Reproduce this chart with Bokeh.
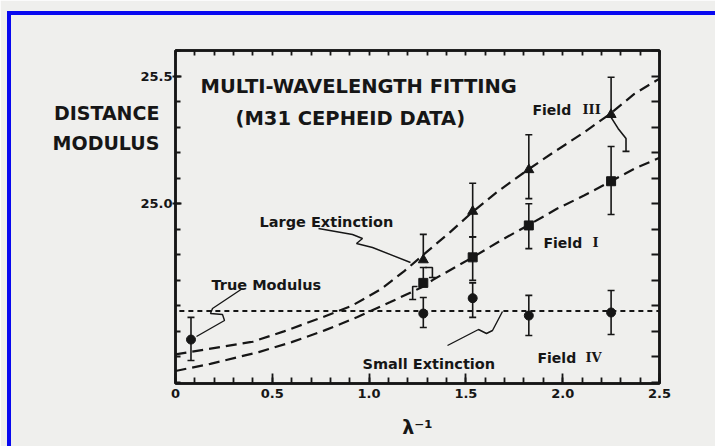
from bokeh.plotting import figure
from bokeh.models import (Range1d, FixedTicker, LinearAxis, Label,
                          InlineStyleSheet)
from bokeh.embed import file_html
from bokeh.resources import INLINE

# ---------------------------------------------------------------- data
# inverse wavelength (1/micron) of the four optical bands
inv_wavelength = [1.28, 1.535, 1.825, 2.25]

# Field III (large extinction)
field3_modulus = [24.78, 24.97, 25.133, 25.349]
field3_upper = [24.88, 25.08, 25.27, 25.495]
field3_lower = [24.711, 24.87, 25.02, 25.205]

# Field I
field1_modulus = [24.69, 24.79, 24.915, 25.088]
field1_upper = [24.75, 24.87, 25.00, 25.224]
field1_lower = [24.625, 24.70, 24.824, 24.958]

# Field IV (small extinction)
field4_modulus = [24.57, 24.63, 24.562, 24.574]
field4_upper = [24.633, 24.69, 24.641, 24.66]
field4_lower = [24.515, 24.555, 24.484, 24.488]

# near-infrared point
ir_inv_wavelength = [0.08]
ir_modulus = [24.468]
ir_upper = [24.555]
ir_lower = [24.386]

true_modulus = 24.58

# fitted extinction curves
large_ext_x = [0.0, 0.40, 0.56, 0.74, 0.91, 1.06, 1.18, 1.28, 1.42, 1.53,
               1.66, 1.82, 1.95, 2.10, 2.24, 2.37, 2.50]
large_ext_y = [24.41, 24.46, 24.50, 24.55, 24.60, 24.665, 24.735, 24.80,
               24.89, 24.965, 25.045, 25.133, 25.20, 25.274, 25.349, 25.43,
               25.49]
small_ext_x = [0.0, 0.18, 0.43, 0.60, 0.77, 0.94, 1.11, 1.27, 1.33, 1.53,
               1.68, 1.82, 1.97, 2.11, 2.25, 2.37, 2.50]
small_ext_y = [24.345, 24.373, 24.419, 24.458, 24.504, 24.556, 24.615,
               24.672, 24.702, 24.788, 24.856, 24.915, 24.98, 25.032, 25.088,
               25.137, 25.18]

x_ticks = [0.0, 0.5, 1.0, 1.5, 2.0, 2.5]
x_tick_labels = ["0", "0.5", "1.0", "1.5", "2.0", "2.5"]
y_ticks = [25.0, 25.5]
y_tick_labels = ["25.0", "25.5"]

# ---------------------------------------------------------------- layout
W, H = 715, 446
FRAME_L, FRAME_T, FRAME_W, FRAME_H = 175, 50, 484, 333
X0, X1 = 0.0, 2.5
Y0, Y1 = 24.296, 25.6

INK = "#161616"
BG = "#efefed"
BLUE = "#0808f0"
SANS = "DejaVu Sans"
SERIF = "DejaVu Serif"


def dx(px):
    """canvas pixel column -> data x"""
    return X0 + (px - FRAME_L) * (X1 - X0) / FRAME_W


def dy(py):
    """canvas pixel row -> data y"""
    return Y1 - (py - FRAME_T) * (Y1 - Y0) / FRAME_H


p = figure(width=W, height=H, x_range=Range1d(X0, X1), y_range=Range1d(Y0, Y1),
           output_backend="svg", toolbar_location=None,
           min_border_left=FRAME_L, min_border_right=W - FRAME_L - FRAME_W,
           min_border_top=FRAME_T, min_border_bottom=H - FRAME_T - FRAME_H)
p.background_fill_color = BG
p.border_fill_color = BG
p.outline_line_color = INK
p.outline_line_width = 2.5
p.grid.visible = False

# blue page rule along the top and left edge
p.stylesheets = [InlineStyleSheet(css=f"""
:host {{ position: relative; }}
:host::after {{
  content: ""; position: absolute; left: 7px; top: 11px;
  width: {W - 7}px; height: {H - 11}px; box-sizing: border-box;
  border-left: 4px solid {BLUE}; border-top: 4px solid {BLUE};
  pointer-events: none;
}}
""")]

minor_x = [round(0.1 * i, 1) for i in range(26)]
minor_y = [round(24.3 + 0.1 * i, 1) for i in range(14)]

for ax in (p.xaxis[0], p.yaxis[0]):
    ax.axis_line_color = INK
    ax.axis_line_width = 2.5
    ax.major_tick_line_color = INK
    ax.minor_tick_line_color = INK
    ax.major_tick_line_width = 1.8
    ax.minor_tick_line_width = 1.8
    ax.major_label_text_font = SANS
    ax.major_label_text_font_style = "bold"
    ax.major_label_text_font_size = "13px"
    ax.major_label_text_color = INK
    ax.axis_label_text_font = SANS
    ax.axis_label_text_font_style = "bold"
    ax.axis_label_text_color = INK

xa = p.xaxis[0]
xa.ticker = FixedTicker(ticks=x_ticks, minor_ticks=minor_x)
xa.major_label_overrides = dict(zip(x_ticks, x_tick_labels))
xa.major_tick_in = 10
xa.major_tick_out = 0
xa.minor_tick_in = 6
xa.minor_tick_out = 0
xa.major_label_standoff = 5
xa.axis_label = "λ\u207b\u00b9"
xa.axis_label_text_font_size = "19px"
xa.axis_label_standoff = 15

ya = p.yaxis[0]
ya.ticker = FixedTicker(ticks=y_ticks, minor_ticks=minor_y)
ya.major_label_overrides = dict(zip(y_ticks, y_tick_labels))
ya.major_tick_in = 6
ya.major_tick_out = 3
ya.minor_tick_in = 5
ya.minor_tick_out = 0
ya.major_label_standoff = 0
# two-line title sits high on the axis: blank lines below push it upward
ya.axis_label = "DISTANCE\nMODULUS\n\n\n\n\n\n"
ya.axis_label_orientation = "horizontal"
ya.axis_label_text_font_size = "19px"
ya.axis_label_text_line_height = 1.345
ya.axis_label_standoff = -22

# tick-only axes on the right and on top
right = LinearAxis(ticker=FixedTicker(ticks=[], minor_ticks=minor_y),
                   axis_line_color=INK, axis_line_width=2.5,
                   minor_tick_line_color=INK, minor_tick_line_width=1.8,
                   minor_tick_in=8, minor_tick_out=0)
p.add_layout(right, "right")
top = LinearAxis(ticker=FixedTicker(ticks=[], minor_ticks=minor_x),
                 axis_line_color=INK, axis_line_width=2.5,
                 minor_tick_line_color=INK, minor_tick_line_width=1.8,
                 minor_tick_in=5, minor_tick_out=0)
p.add_layout(top, "above")

# ---------------------------------------------------------------- curves
p.line(large_ext_x, large_ext_y, line_color=INK, line_width=2.2, line_dash="11 6")
p.line(small_ext_x, small_ext_y, line_color=INK, line_width=2.2, line_dash="11 6")
p.line([X0 + 0.02, X1], [true_modulus, true_modulus], line_color=INK,
       line_width=2, line_dash="5 4")

# ---------------------------------------------------------------- error bars
CAP = 7


def error_bars(xs, ys, ups, lows, offset=None):
    """vertical bars with caps; `offset` maps an index to a bent lower bar
    given as (x offsets, y offsets) from the marker, ending at the lower value"""
    offset = offset or {}
    for i, (x, y, u, lo) in enumerate(zip(xs, ys, ups, lows)):
        p.segment(x0=[x], y0=[y], x1=[x], y1=[u], line_color=INK, line_width=1.6)
        p.scatter([x], [u], marker="dash", size=CAP, line_color=INK, line_width=1.6)
        if i in offset:
            ox, oy = offset[i]
            px_ = [x + d for d in ox]
            py_ = [y + d for d in oy] + [lo]
            p.line(px_, py_, line_color=INK, line_width=1.6)
            p.scatter([px_[-1]], [lo], marker="dash", size=CAP, line_color=INK,
                      line_width=1.6)
        else:
            p.segment(x0=[x], y0=[y], x1=[x], y1=[lo], line_color=INK, line_width=1.6)
            p.scatter([x], [lo], marker="dash", size=CAP, line_color=INK, line_width=1.6)


error_bars(inv_wavelength, field3_modulus, field3_upper, field3_lower,
           offset={0: ([0.01, 0.047, 0.047], [-0.03, -0.03]),
                   3: ([0.0, 0.036, 0.077, 0.077], [-0.011, -0.054, -0.094])})
error_bars(inv_wavelength, field1_modulus, field1_upper, field1_lower,
           offset={0: ([-0.03, -0.055, -0.055], [-0.014, -0.014])})
error_bars(inv_wavelength, field4_modulus, field4_upper, field4_lower)
error_bars(ir_inv_wavelength, ir_modulus, ir_upper, ir_lower)

# ---------------------------------------------------------------- markers
p.scatter(inv_wavelength, field3_modulus, marker="triangle", size=10,
          fill_color=INK, line_color=INK)
p.scatter(inv_wavelength, field1_modulus, marker="square", size=9,
          fill_color=INK, line_color=INK)
p.scatter(inv_wavelength, field4_modulus, marker="circle", size=9,
          fill_color=INK, line_color=INK)
p.scatter(ir_inv_wavelength, ir_modulus, marker="circle", size=9,
          fill_color=INK, line_color=INK)

# ---------------------------------------------------------------- leaders
leaders = [
    # True Modulus -> infrared point
    ([242, 212, 210, 222, 224, 196], [288, 308, 313, 314, 320, 336]),
    # Large Extinction -> Field III curve
    ([318, 352, 362, 356, 372, 410], [228, 234, 238, 243, 247, 262]),
    # Small Extinction -> true modulus line
    ([447, 478, 486, 492, 502], [345, 329, 333, 330, 311]),
]
for lx, ly in leaders:
    p.line([dx(v) for v in lx], [dy(v) for v in ly], line_color=INK, line_width=1.4)

# ---------------------------------------------------------------- text


def add_text(px, py, text, size, font=SANS, style="bold"):
    p.add_layout(Label(x=dx(px), y=dy(py), text=text, text_font=font,
                       text_font_size=f"{size}px", text_font_style=style,
                       text_color=INK, text_align="left",
                       text_baseline="alphabetic"))


add_text(200, 86, "MULTI-WAVELENGTH FITTING", 19.5)
add_text(235, 118, "(M31 CEPHEID DATA)", 19.5)
add_text(259, 221, "Large Extinction", 14.5)
add_text(211, 284, "True Modulus", 14.5)
add_text(362, 363, "Small Extinction", 14.5)
add_text(532, 109, "Field", 14)
add_text(582, 109, "III", 13, font=SERIF)
add_text(543, 242, "Field", 14)
add_text(592, 242, "I", 13, font=SERIF)
add_text(537, 357, "Field", 14)
add_text(585, 357, "IV", 13, font=SERIF)

open("out.html", "w").write(file_html(p, INLINE))
